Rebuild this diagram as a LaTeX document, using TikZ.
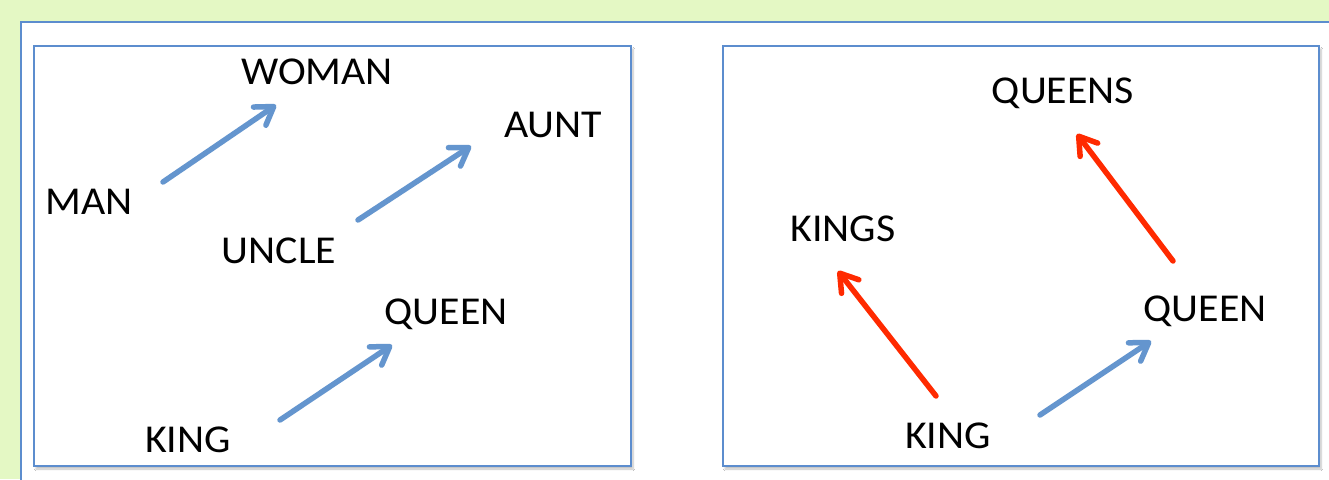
\documentclass[tikz,border=0pt]{standalone}
\usepackage{fontspec}
\setmainfont[FakeStretch=1.06]{Carlito}
\usetikzlibrary{arrows.meta,shadows.blur}

\definecolor{bggreen}{RGB}{228,248,196}
\definecolor{frameblue}{RGB}{92,141,206}
\definecolor{vecblue}{RGB}{100,149,206}
\definecolor{vecred}{RGB}{255,42,0}

\tikzset{
  word/.style={anchor=base, inner sep=0pt, font=\fontsize{39.5}{40}\selectfont},
  panel/.style={draw=frameblue, line width=2.2pt, fill=white,
    blur shadow={shadow xshift=2pt, shadow yshift=-3pt, shadow opacity=25, shadow blur steps=6}},
  vec/.style={line width=5.5pt, line cap=round,
    -{Straight Barb[length=17pt, width=22pt, round]}},
  bluevec/.style={vec, draw=vecblue},
  redvec/.style={vec, draw=vecred},
}

\begin{document}
\begin{tikzpicture}[x=1pt, y=-1pt]
\useasboundingbox (0,0) rectangle (1329,479);
\fill[bggreen] (0,0) rectangle (1329,479);

% outer sheet
\path[panel] (21,22) rectangle (1345,495);

% the two plots
\path[panel] (34,46) rectangle (631,466);
\path[panel] (723,46) rectangle (1319,466);

% left plot: gender offset
\node[word] (woman) at (317,84)  {WOMAN};
\node[word] (man)   at (89,214)  {MAN};
\node[word] (aunt)  at (553,137) {AUNT};
\node[word] (uncle) at (279,263) {UNCLE};
\node[word] (queenL) at (446,324) {QUEEN};
\node[word] (kingL)  at (188,452) {KING};

\coordinate (m1) at (163,182);  \coordinate (w1) at (276,105);
\coordinate (u1) at (358,220);  \coordinate (a1) at (471,146);
\coordinate (k1) at (280,420);  \coordinate (q1) at (392,345);

\draw[bluevec] (m1) -- (w1);
\draw[bluevec] (u1) -- (a1);
\draw[bluevec] (k1) -- (q1);

% right plot: gender and plural offsets
\node[word] (queens) at (1063,103) {QUEENS};
\node[word] (kings)  at (843,241)  {KINGS};
\node[word] (queenR) at (1205,321) {QUEEN};
\node[word] (kingR)  at (948,448)  {KING};

\coordinate (k2) at (936,396);   \coordinate (ks2) at (838,271);
\coordinate (q2) at (1173,261);  \coordinate (qs2) at (1077,134);
\coordinate (k3) at (1040,415);  \coordinate (q3) at (1151,341);

\draw[redvec]  (k2) -- (ks2);
\draw[redvec]  (q2) -- (qs2);
\draw[bluevec] (k3) -- (q3);
\end{tikzpicture}
\end{document}
